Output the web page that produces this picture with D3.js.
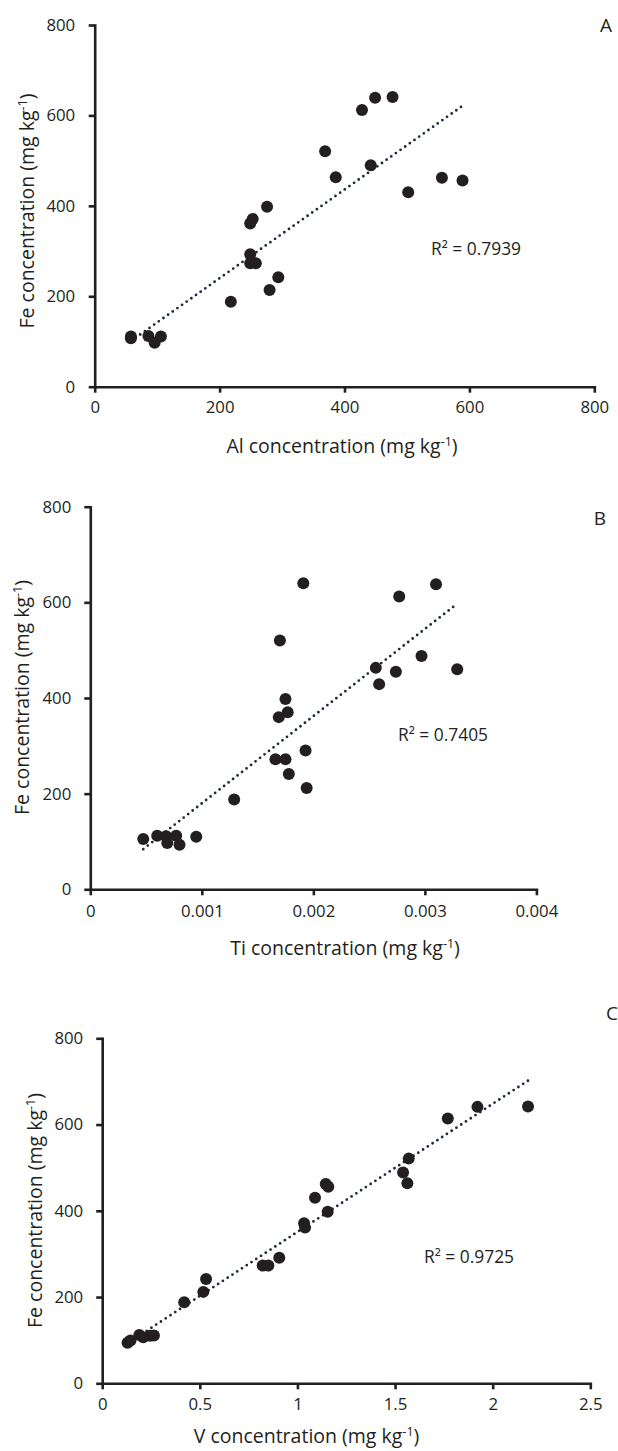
<!DOCTYPE html>
<html>
<head>
<meta charset="utf-8">
<script src="https://cdn.jsdelivr.net/npm/d3@7"></script>
<style>
body { margin: 0; background: #fff; }
svg text { font-family: "Open Sans", sans-serif; fill: #231f20; }
.axis path, .axis line { stroke: #231f20; stroke-width: 2.6px; }
.axis text { font-size: 16.8px; }
.trend { fill: none; stroke: #1f2a3a; stroke-width: 2.8px; stroke-linecap: round; stroke-dasharray: 0 5.7; }
</style>
</head>
<body>
<svg id="chart" width="618" height="1451"></svg>
<script>
// panel A: Al vs Fe
var alValues = [58, 58, 86, 96, 106, 218, 249, 253, 276, 249, 249, 258, 280, 294, 369, 386, 428, 449, 477, 442, 502, 556, 589];
var feA      = [107, 111, 112, 97, 111, 188, 361, 371, 398, 293, 273, 273, 214, 242, 521, 463, 612, 639, 641, 490, 430, 462, 456];

// panel B: Ti vs Fe
var tiValues = [0.000475, 0.0006, 0.00068, 0.00069, 0.00077, 0.0008, 0.00095, 0.00129, 0.0017, 0.00191, 0.00175, 0.00177, 0.00169, 0.00166, 0.00175, 0.00178, 0.00193, 0.00194, 0.00256, 0.00259, 0.00274, 0.00277, 0.00297, 0.0031, 0.00329];
var feB      = [105, 112, 111, 97, 112, 93, 110, 188, 520, 640, 398, 370, 360, 272, 272, 241, 290, 212, 463, 429, 455, 612, 488, 638, 460];

// panel C: V vs Fe
var vValues = [0.13, 0.145, 0.19, 0.21, 0.245, 0.265, 0.42, 0.518, 0.532, 0.822, 0.851, 0.907, 1.034, 1.039, 1.09, 1.145, 1.158, 1.155, 1.541, 1.563, 1.57, 1.77, 1.922, 2.181];
var feC     = [94, 99, 112, 107, 110, 111, 188, 212, 242, 273, 273, 291, 371, 361, 430, 462, 456, 398, 489, 464, 521, 614, 641, 642];

// linear trendlines (slope, intercept)
var trendA = [0.98, 44];
var trendB = [182300, -2.6];
var trendC = [297, 54];

var r2Labels = ["R\u00b2 = 0.7939", "R\u00b2 = 0.7405", "R\u00b2 = 0.9725"];
var panelLetters = ["A", "B", "C"];
var xNames = ["Al", "Ti", "V"];

var feTicks = [0, 200, 400, 600, 800];
var alTicks = [0, 200, 400, 600, 800];
var tiTicks = [0, 0.001, 0.002, 0.003, 0.004];
var vTicks  = [0, 0.5, 1, 1.5, 2, 2.5];

var svg = d3.select("#chart");

function addTitle(sel, label) {
	sel.append("tspan").text(label + " concentration (mg kg");
	sel.append("tspan").attr("dy", -7).attr("font-size", "12.5px").text("-1");
	sel.append("tspan").attr("dy", 7).text(")");
}

function drawPanel(p) {
	var x = d3.scaleLinear().domain([0, p.xTicks[p.xTicks.length-1]]).range(p.xRange);
	var y = d3.scaleLinear().domain([0, 800]).range(p.yRange);
	var g = svg.append("g");

	g.append("g")
		.attr("class", "axis")
		.attr("transform", "translate(0," + p.yRange[0] + ")")
		.call(d3.axisBottom(x).tickValues(p.xTicks).tickFormat(d => String(d)).tickSize(6).tickSizeOuter(0).tickPadding(p.xPad))
		.selectAll("text").attr("dy", "0.35em");

	g.append("g")
		.attr("class", "axis")
		.attr("transform", "translate(" + p.xRange[0] + ",0)")
		.call(d3.axisLeft(y).tickValues(feTicks).tickSize(6).tickSizeOuter(0).tickPadding(p.yPad));

	g.selectAll(".axis .domain").attr("stroke-linecap", "square");

	// trendline over the data range
	var ext = d3.extent(p.xs);
	var line = d3.line().x(d => x(d)).y(d => y(p.trend[0] * d + p.trend[1]));
	g.append("path").attr("class", "trend").attr("d", line([ext[0], ext[1]]));

	g.selectAll("circle")
		.data(p.xs.map((d, i) => [d, p.ys[i]]))
		.enter()
		.append("circle")
			.attr("cx", d => x(d[0]))
			.attr("cy", d => y(d[1]))
			.attr("r", 6)
			.style("fill", "#231f20");

	g.append("text")
		.attr("x", p.r2Pos[0]).attr("y", p.r2Pos[1])
		.attr("dy", "0.35em")
		.attr("font-size", "17.4px")
		.text(p.r2);

	g.append("text")
		.attr("x", p.letterPos[0]).attr("y", p.letterPos[1])
		.attr("dy", "0.35em")
		.attr("text-anchor", "middle")
		.attr("font-size", "19px")
		.text(p.letter);

	var xt = g.append("text")
		.attr("x", p.xTitlePos[0]).attr("y", p.xTitlePos[1])
		.attr("text-anchor", "middle")
		.attr("font-size", "19.5px");
	addTitle(xt, p.xName);

	var yt = g.append("text")
		.attr("transform", "translate(" + p.yTitlePos[0] + "," + p.yTitlePos[1] + ")rotate(-90)")
		.attr("text-anchor", "middle")
		.attr("font-size", "19.5px");
	addTitle(yt, "Fe");
}

drawPanel({
	xs: alValues, ys: feA, trend: trendA, xTicks: alTicks,
	xRange: [94.7, 594.3], yRange: [386.7, 25], xPad: 14.5, yPad: 13.5,
	r2: r2Labels[0], r2Pos: [431, 249], letter: panelLetters[0], letterPos: [606, 25],
	xName: xNames[0], xTitlePos: [342, 453], yTitlePos: [33.5, 211]
});
drawPanel({
	xs: tiValues, ys: feB, trend: trendB, xTicks: tiTicks,
	xRange: [90.3, 536.4], yRange: [889.3, 506.7], xPad: 15.5, yPad: 13,
	r2: r2Labels[1], r2Pos: [398, 735], letter: panelLetters[1], letterPos: [600, 518],
	xName: xNames[1], xTitlePos: [345, 955], yTitlePos: [29, 697.5]
});
drawPanel({
	xs: vValues, ys: feC, trend: trendC, xTicks: vTicks,
	xRange: [102.2, 590.3], yRange: [1383.3, 1038.3], xPad: 15, yPad: 13,
	r2: r2Labels[2], r2Pos: [424, 1257], letter: panelLetters[2], letterPos: [612, 1013],
	xName: xNames[2], xTitlePos: [306.5, 1443], yTitlePos: [41.5, 1210.5]
});
</script>
</body>
</html>
